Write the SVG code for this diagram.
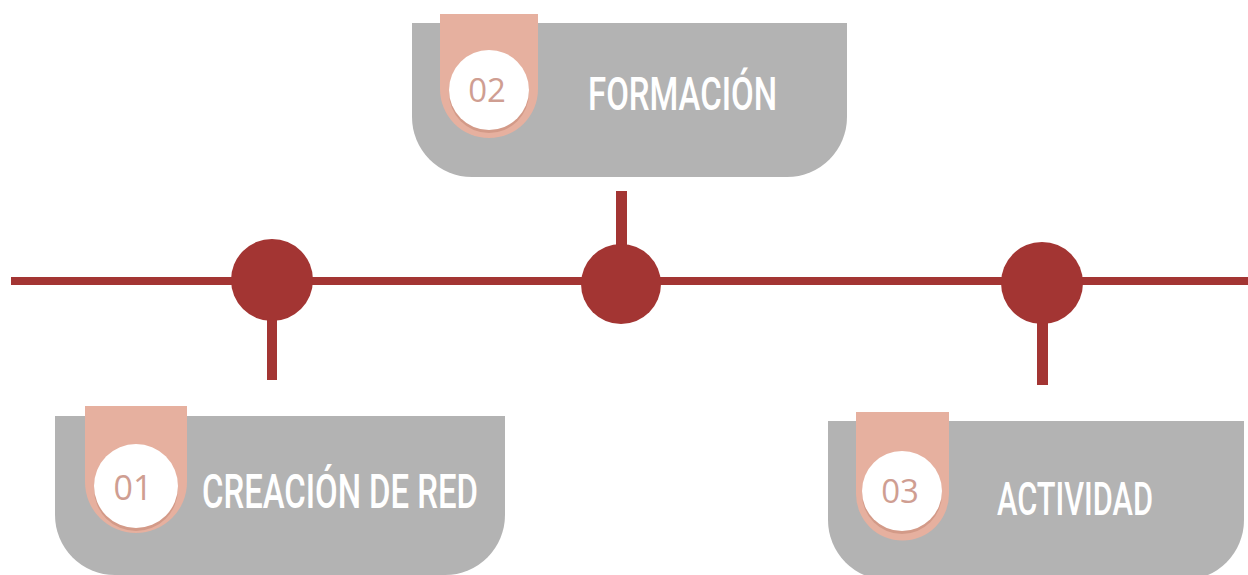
<svg xmlns="http://www.w3.org/2000/svg" width="1248" height="575" viewBox="0 0 1248 575">
  <style>
    .box { fill: #b3b3b3; }
    .tab { fill: #e6b09f; }
    .shadow { fill: #d39a88; }
    .disc { fill: #ffffff; }
    .num { font-family: "Open Sans", "Liberation Sans", sans-serif; font-weight: 400; fill: #cf9e92; text-anchor: middle; }
    .title { font-family: Roboto, "Liberation Sans", Arial, sans-serif; font-weight: 500; fill: #ffffff; }
    .red { fill: #a33533; }
  </style>
  <rect width="1248" height="575" fill="#ffffff"/>

  <g id="connectors">
    <rect class="red" x="11" y="277" width="1237" height="8"/>
    <rect class="red" x="267" y="282" width="10" height="98"/>
    <rect class="red" x="616" y="191" width="11" height="60"/>
    <rect class="red" x="1037" y="300" width="11" height="85"/>
    <circle class="red" cx="272" cy="280" r="41"/>
    <circle class="red" cx="621" cy="284" r="40"/>
    <circle class="red" cx="1042" cy="283" r="41"/>
  </g>

  <g id="node-02">
    <path class="box" d="M412 23 H847 V117 A60 60 0 0 1 787 177 H472 A60 60 0 0 1 412 117 Z"/>
    <path class="tab" d="M440 14 H538 V89 A49 49 0 0 1 440 89 Z"/>
    <circle class="shadow" cx="489" cy="93" r="40"/>
    <circle class="disc" cx="489" cy="90" r="40"/>
    <text class="num" x="487" y="102" font-size="33">02</text>
    <text class="title" x="588" y="110" font-size="46" textLength="189" lengthAdjust="spacingAndGlyphs">FORMACIÓN</text>
  </g>

  <g id="node-01">
    <path class="box" d="M55 416 H505 V515 A60 60 0 0 1 445 575 H115 A60 60 0 0 1 55 515 Z"/>
    <path class="tab" d="M85 406 H187 V482 A51 51 0 0 1 85 482 Z"/>
    <circle class="shadow" cx="136" cy="489" r="42"/>
    <circle class="disc" cx="136" cy="486" r="42"/>
    <text class="num" x="133" y="500" font-size="34">01</text>
    <text class="title" x="202" y="508" font-size="49" textLength="276" lengthAdjust="spacingAndGlyphs">CREACIÓN DE RED</text>
  </g>

  <g id="node-03">
    <path class="box" d="M828 421 H1244 V520 A60 60 0 0 1 1184 580 H888 A60 60 0 0 1 828 520 Z"/>
    <path class="tab" d="M856 412 H949 V494 A46.5 46.5 0 0 1 856 494 Z"/>
    <circle class="shadow" cx="902" cy="494" r="40"/>
    <circle class="disc" cx="902" cy="491" r="40"/>
    <text class="num" x="900" y="503" font-size="33">03</text>
    <text class="title" x="997" y="515" font-size="47" textLength="156" lengthAdjust="spacingAndGlyphs">ACTIVIDAD</text>
  </g>
</svg>
